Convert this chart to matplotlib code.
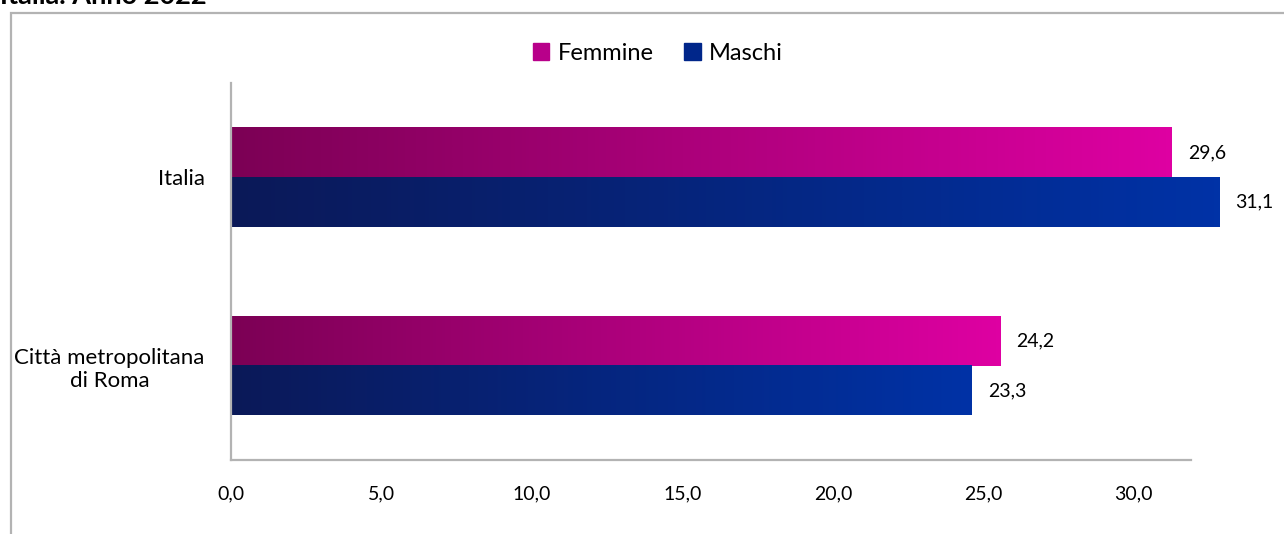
import numpy as np
import matplotlib
matplotlib.use("Agg")
import matplotlib.pyplot as plt
from matplotlib.colors import LinearSegmentedColormap
from matplotlib.patches import Rectangle

plt.rcParams['font.family'] = ['Lato', 'DejaVu Sans']

categories = ["Italia", "Città metropolitana\ndi Roma"]
femmine = [29.6, 24.2]
maschi = [31.1, 23.3]
series_names = ["Femmine", "Maschi"]
tick_values = [0, 5, 10, 15, 20, 25, 30]
tick_labels = ["0,0", "5,0", "10,0", "15,0", "20,0", "25,0", "30,0"]
title = "Italia. Anno 2022"

W, H = 1284, 534
fig = plt.figure(figsize=(W / 100, H / 100), dpi=100)

# outer frame (extends past right and bottom edges)
fig.patches.append(Rectangle((11 / W, -0.1), 1.2, 1 - 13 / H + 0.1, transform=fig.transFigure,
                             fill=False, edgecolor="#b3b3b3", linewidth=1.6, zorder=0))
fig.text(0.0, 1 - 4 / H, title, fontsize=19.5, fontweight="bold", va="baseline", ha="left")

ax = fig.add_axes([231 / W, 1 - 460 / H, (1191 - 231) / W, (460 - 83) / H])
cm_f = LinearSegmentedColormap.from_list("f", ["#7c0055", "#de00a2"])
cm_m = LinearSegmentedColormap.from_list("m", ["#0b1958", "#0032a6"])
grad = np.linspace(0, 1, 256).reshape(1, -1)
h = 0.262
y = np.arange(len(categories))
for i in range(len(categories)):
    im1 = ax.imshow(grad, cmap=cm_f, aspect="auto", extent=[0, femmine[i], y[i], y[i] - h],
                    interpolation="bicubic", zorder=2)
    im2 = ax.imshow(grad, cmap=cm_m, aspect="auto", extent=[0, maschi[i], y[i] + h, y[i]],
                    interpolation="bicubic", zorder=2)
    im1.set_clip_on(False)
    im2.set_clip_on(False)
    ax.annotate(f"{femmine[i]:.1f}".replace(".", ","), (femmine[i], y[i] - h / 2),
                xytext=(16, 0), textcoords="offset pixels", va="center", ha="left",
                fontsize=14, annotation_clip=False)
    ax.annotate(f"{maschi[i]:.1f}".replace(".", ","), (maschi[i], y[i] + h / 2),
                xytext=(16, 0), textcoords="offset pixels", va="center", ha="left",
                fontsize=14, annotation_clip=False)

ax.set_xlim(0, 30.2)
ax.set_ylim(1.5, -0.5)
ax.set_yticks(y)
ax.set_yticklabels(categories, fontsize=16, multialignment="center")
ax.tick_params(axis="y", length=0, pad=19)
ax.set_xticks([])
for s in ["top", "right"]:
    ax.spines[s].set_visible(False)
for s in ["left", "bottom"]:
    ax.spines[s].set_color("#b3b3b3")
    ax.spines[s].set_linewidth(1.6)

# value-axis labels as drawn in the reference
ax2 = ax.twiny()
ax2.set_xlim(0, 31.9)
ax2.xaxis.set_ticks_position("bottom")
ax2.set_xticks(tick_values)
ax2.set_xticklabels(tick_labels, fontsize=14)
ax2.tick_params(axis="x", length=0, pad=18)
for s in ax2.spines.values():
    s.set_visible(False)

handles = [Rectangle((0, 0), 1, 1, color="#b8008a"), Rectangle((0, 0), 1, 1, color="#00268a")]
fig.legend(handles, series_names, loc="center", bbox_to_anchor=(658 / W, 1 - 53 / H), ncol=2,
           frameon=False, fontsize=17, handlelength=0.7, handleheight=0.7, handletextpad=0.35,
           columnspacing=1.3)

fig.savefig("out.png", dpi=100)
